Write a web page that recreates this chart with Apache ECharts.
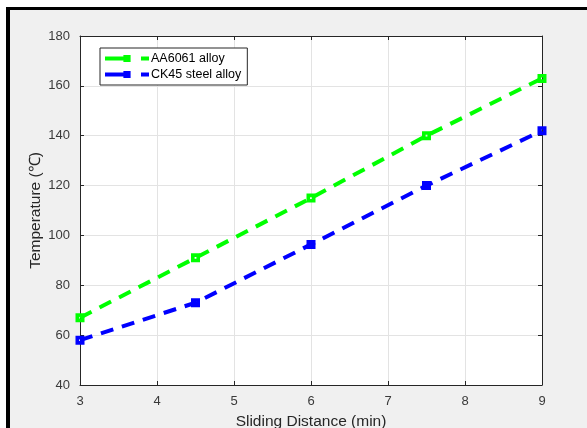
<!DOCTYPE html>
<html>
<head>
<meta charset="utf-8">
<script src="https://cdn.jsdelivr.net/npm/echarts@6/dist/echarts.min.js"></script>
<style>
html,body{margin:0;padding:0;background:#fff;}
#chart{width:587px;height:428px;}
</style>
</head>
<body>
<div id="chart"></div>
<script>
var xValues = [3, 4.5, 6, 7.5, 9];
var aa6061 = [67, 91, 115, 140, 163];
var ck45 = [58, 73, 96.4, 120, 142];
var seriesNames = ['AA6061 alloy', 'CK45 steel alloy'];
var xLabel = 'Sliding Distance (min)';
var yLabel = 'Temperature (\u2103)';

function pairs(xs, ys) { return xs.map(function (x, i) { return [x, ys[i]]; }); }

var chart = echarts.init(document.getElementById('chart'), null, {renderer: 'canvas'});
var font = 'Liberation Sans, Arial, Helvetica, sans-serif';
var axisColor = '#262626';
var tickStyle = {show: true, inside: true, length: 4, lineStyle: {color: axisColor, width: 1}};
var squareMark = 'path://M0,0H10V10H0Z M4,4V6H6V4Z';

function lineSeries(name, data, color) {
  return {
    name: name, type: 'line', data: data,
    symbol: squareMark, symbolSize: 9, symbolKeepAspect: true,
    lineStyle: {color: color, width: 4, type: [13, 9]},
    itemStyle: {color: color, borderWidth: 0},
    emphasis: {disabled: true},
    z: 5
  };
}

chart.setOption({
  animation: false,
  backgroundColor: '#fff',
  graphic: [
    {type: 'rect', shape: {x: 6, y: 7, width: 581, height: 421}, style: {fill: '#f0f0f0'}, z: -10},
    {type: 'rect', shape: {x: 6, y: 7, width: 581, height: 3}, style: {fill: '#000'}, z: -9},
    {type: 'rect', shape: {x: 6, y: 7, width: 4, height: 421}, style: {fill: '#000'}, z: -9}
  ],
  grid: {left: 80, right: 45, top: 36, bottom: 43, show: true, backgroundColor: '#fff', borderWidth: 0, outerBoundsMode: 'none', containLabel: false},
  legend: {
    orient: 'vertical', left: 100, top: 48,
    backgroundColor: '#fff', borderColor: axisColor, borderWidth: 1,
    padding: [4, 6, 4, 3], itemGap: 3, itemWidth: 44, itemHeight: 9,
    lineStyle: {width: 4, type: [25, 11, 8, 60]},
    textStyle: {fontFamily: font, fontSize: 12.5, color: '#000', padding: [0, 0, 0, -3]},
    data: seriesNames
  },
  xAxis: [{
    type: 'value', min: 3, max: 9, interval: 1, position: 'bottom',
    name: xLabel, nameLocation: 'middle', nameGap: 29, nameMoveOverlap: false,
    nameTextStyle: {fontFamily: font, fontSize: 15.5, color: '#262626'},
    axisLine: {show: true, lineStyle: {color: axisColor, width: 1}},
    axisTick: tickStyle,
    axisLabel: {fontFamily: font, fontSize: 13, color: '#3a3a3a', margin: 10},
    splitLine: {show: true, lineStyle: {color: '#e3e3e3', width: 1}}
  }, {
    type: 'value', min: 3, max: 9, interval: 1, position: 'top',
    axisLine: {show: true, onZero: false, lineStyle: {color: axisColor, width: 1}},
    axisTick: tickStyle, axisLabel: {show: false}, splitLine: {show: false}
  }],
  yAxis: [{
    type: 'value', min: 40, max: 180, interval: 20, position: 'left',
    name: yLabel, nameLocation: 'middle', nameGap: 36, nameRotate: 90, nameMoveOverlap: false,
    nameTextStyle: {fontFamily: font, fontSize: 15.5, color: '#262626'},
    axisLine: {show: true, lineStyle: {color: axisColor, width: 1}},
    axisTick: tickStyle,
    axisLabel: {fontFamily: font, fontSize: 13, color: '#3a3a3a', margin: 10},
    splitLine: {show: true, lineStyle: {color: '#e3e3e3', width: 1}}
  }, {
    type: 'value', min: 40, max: 180, interval: 20, position: 'right',
    axisLine: {show: true, onZero: false, lineStyle: {color: axisColor, width: 1}},
    axisTick: tickStyle, axisLabel: {show: false}, splitLine: {show: false}
  }],
  series: [
    lineSeries(seriesNames[0], pairs(xValues, aa6061), '#00ff00'),
    lineSeries(seriesNames[1], pairs(xValues, ck45), '#0000ff')
  ]
});
</script>
</body>
</html>
